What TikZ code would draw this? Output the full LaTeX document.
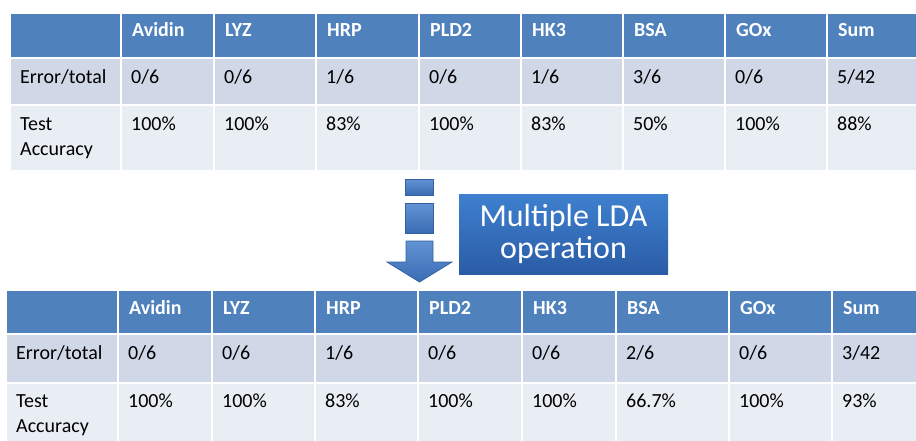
\documentclass[tikz,border=0pt]{standalone}
\usepackage{fontspec}
\setmainfont{Carlito}
\usepackage{xcolor}
\usepackage{tikz}
\usetikzlibrary{positioning}

\definecolor{hdrblue}{RGB}{79,129,189}
\definecolor{rowdark}{RGB}{208,216,232}
\definecolor{rowlight}{RGB}{233,237,244}
\definecolor{blocktop}{RGB}{98,147,212}
\definecolor{blockbot}{RGB}{58,108,180}
\definecolor{blockline}{RGB}{52,96,164}
\definecolor{ldatop}{RGB}{62,128,206}
\definecolor{ldabot}{RGB}{42,92,166}

\begin{document}
\begin{tikzpicture}[x=1pt, y=-1pt]
    \tikzstyle{cell} = [draw=white, line width=2.5pt]
    \tikzstyle{txt} = [anchor=base west, inner sep=0pt, text=black, font=\fontsize{20}{25}\selectfont]
    \tikzstyle{head} = [txt, text=white, font=\fontsize{20}{25}\selectfont\bfseries]
    \tikzstyle{block} = [top color=blocktop, bottom color=blockbot, draw=blockline, line width=0.8pt]

    \useasboundingbox (0,0) rectangle (916,440);
    \clip (0,0) rectangle (916,440);

    % first table
    \fill[hdrblue, cell] (10,13) rectangle (121,58);
    \fill[rowdark, cell] (10,58) rectangle (121,105);
    \fill[rowlight, cell] (10,105) rectangle (121,171);
    \node[txt] (top-e0) at (20,83) {Error/total};
    \node[txt] (top-a0) at (20,130) {Test};
    \node[txt] (top-b0) at (20,155) {Accuracy};
    \foreach \xa/\xb/\name/\err/\acc [count=\i] in {
        121/214/Avidin/{0/6}/100\%, 214/316/LYZ/{0/6}/100\%,
        316/419/HRP/{1/6}/83\%, 419/521/PLD2/{0/6}/100\%,
        521/623/HK3/{1/6}/83\%, 623/725/BSA/{3/6}/50\%,
        725/827/GOx/{0/6}/100\%, 827/918/Sum/{5/42}/88\%} {
        \fill[hdrblue, cell] (\xa,13) rectangle (\xb,58);
        \fill[rowdark, cell] (\xa,58) rectangle (\xb,105);
        \fill[rowlight, cell] (\xa,105) rectangle (\xb,171);
        \node[head] (top-h\i) at (\xa+11,36) {\name};
        \node[txt] (top-e\i) at (\xa+10,83) {\err};
        \node[txt] (top-a\i) at (\xa+10,130) {\acc};
    }

    % step arrow and label
    \shade[block] (405,179) rectangle (433,195);
    \shade[block] (405,203) rectangle (433,233);
    \shade[block] (406,241) -- (433,241) -- (433,262) -- (452,262) -- (419.5,282)
        -- (387,262) -- (406,262) -- cycle;
    \node[top color=ldatop, bottom color=ldabot, minimum width=209pt, minimum height=80pt,
        text=white, align=center, font=\fontsize{32}{32}\selectfont] (lda) at (563.5,234)
        {Multiple LDA\\operation};

    % second table
    \fill[hdrblue, cell] (6,290) rectangle (118,334);
    \fill[rowdark, cell] (6,334) rectangle (118,383);
    \fill[rowlight, cell] (6,383) rectangle (118,445);
    \node[txt] (bot-e0) at (16,359) {Error/total};
    \node[txt] (bot-a0) at (16,407) {Test};
    \node[txt] (bot-b0) at (16,432) {Accuracy};
    \foreach \xa/\xb/\name/\err/\acc [count=\i] in {
        118/212/Avidin/{0/6}/100\%, 212/315/LYZ/{0/6}/100\%,
        315/418/HRP/{1/6}/83\%, 418/522/PLD2/{0/6}/100\%,
        522/616/HK3/{0/6}/100\%, 616/729/BSA/{2/6}/66.7\%,
        729/832/GOx/{0/6}/100\%, 832/918/Sum/{3/42}/93\%} {
        \fill[hdrblue, cell] (\xa,290) rectangle (\xb,334);
        \fill[rowdark, cell] (\xa,334) rectangle (\xb,383);
        \fill[rowlight, cell] (\xa,383) rectangle (\xb,445);
        \node[head] (bot-h\i) at (\xa+11,314) {\name};
        \node[txt] (bot-e\i) at (\xa+10,359) {\err};
        \node[txt] (bot-a\i) at (\xa+10,407) {\acc};
    }
\end{tikzpicture}
\end{document}
